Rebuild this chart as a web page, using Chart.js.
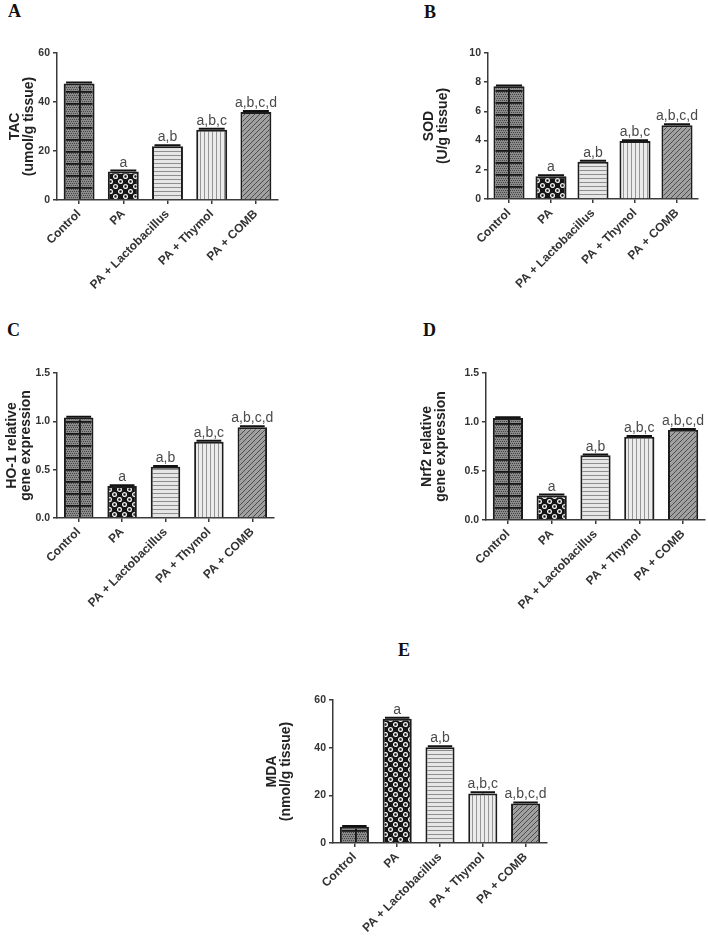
<!DOCTYPE html>
<html>
<head>
<meta charset="utf-8">
<script src="https://cdn.jsdelivr.net/npm/chart.js@4.4.1/dist/chart.umd.min.js"></script>
<style>
  html, body { margin: 0; padding: 0; background: #fff; }
  body { position: relative; width: 708px; height: 936px; overflow: hidden; }
  canvas { position: absolute; }
  .tag { position: absolute; font: bold 18px "Liberation Serif", "Times New Roman", serif; line-height: 1; color: #111; }
</style>
</head>
<body>
<div class="tag" style="left:8px;top:2px">A</div>
<div class="tag" style="left:424px;top:3px">B</div>
<div class="tag" style="left:7px;top:321px">C</div>
<div class="tag" style="left:423px;top:321px">D</div>
<div class="tag" style="left:398px;top:641px">E</div>

<canvas id="chartA" width="300" height="270" style="left:0;top:30px"></canvas>
<canvas id="chartB" width="298" height="270" style="left:410px;top:30px"></canvas>
<canvas id="chartC" width="300" height="275" style="left:0;top:345px"></canvas>
<canvas id="chartD" width="300" height="275" style="left:408px;top:345px"></canvas>
<canvas id="chartE" width="350" height="266" style="left:250px;top:670px"></canvas>

<script>
// groups on the x axis (same for every panel)
const groups = ['Control', 'PA', 'PA + Lactobacillus', 'PA + Thymol', 'PA + COMB'];

// A - TAC (umol/g tissue)
const tacValues = [47.6, 11.6, 21.9, 28.7, 35.9];
const tacErrors = [0.4, 0.4, 0.4, 0.4, 0.4];
const tacTicks = [0, 20, 40, 60];

// B - SOD (U/g tissue)
const sodValues = [7.72, 1.55, 2.55, 3.97, 5.05];
const sodErrors = [0.06, 0.07, 0.07, 0.06, 0.07];
const sodTicks = [0, 2, 4, 6, 8, 10];

// C - HO-1 relative gene expression
const ho1Values = [1.04, 0.33, 0.53, 0.79, 0.94];
const ho1Errors = [0.008, 0.008, 0.008, 0.008, 0.008];

// D - Nrf2 relative gene expression
const nrf2Values = [1.04, 0.25, 0.66, 0.85, 0.92];
const nrf2Errors = [0.008, 0.01, 0.008, 0.008, 0.008];

const foldTicks = [0, 0.5, 1, 1.5];
const foldTickLabels = ['0.0', '0.5', '1.0', '1.5'];

// E - MDA (nmol/g tissue)
const mdaValues = [6.8, 52.1, 40.2, 20.8, 16.6];
const mdaErrors = [0.3, 0.5, 0.4, 0.5, 0.4];
const mdaTicks = [0, 20, 40, 60];

// significance letters above the bars
const sigLetters = ['', 'a', 'a,b', 'a,b,c', 'a,b,c,d'];

Chart.defaults.font.family = "'Liberation Sans', Arial, sans-serif";
Chart.defaults.color = '#333';

/* fill patterns */
function tile(w, h, paint) {
	var c = document.createElement('canvas');
	c.width = w; c.height = h;
	paint(c.getContext('2d'));
	return c;
}
function meshFill(ctx) {
	return ctx.createPattern(tile(15, 12, function (g) {
		g.fillStyle = '#8a8a8a'; g.fillRect(0, 0, 15, 12);
		g.fillStyle = '#444';
		for (var y = 0; y < 12; y += 2)
			for (var x = (y % 4 ? 1 : 0); x < 15; x += 2) g.fillRect(x, y, 1, 1);
		g.fillStyle = '#161616';
		g.fillRect(0, 0, 15, 1.8);
		g.fillRect(0, 0, 1.8, 12);
	}), 'repeat');
}
function ringFill(ctx) {
	return ctx.createPattern(tile(10, 10, function (g) {
		g.fillStyle = '#151515'; g.fillRect(0, 0, 10, 10);
		g.strokeStyle = '#f2f2f2'; g.lineWidth = 1.3;
		[[2.5, 2.5], [7.5, 7.5]].forEach(function (p) {
			g.beginPath(); g.arc(p[0], p[1], 1.9, 0, Math.PI * 2); g.stroke();
		});
	}), 'repeat');
}
function hStripeFill(ctx) {
	return ctx.createPattern(tile(4, 4, function (g) {
		g.fillStyle = '#e6e6e6'; g.fillRect(0, 0, 4, 4);
		g.fillStyle = '#8e8e8e'; g.fillRect(0, 0, 4, 1);
	}), 'repeat');
}
function vStripeFill(ctx) {
	return ctx.createPattern(tile(4, 4, function (g) {
		g.fillStyle = '#ececec'; g.fillRect(0, 0, 4, 4);
		g.fillStyle = '#959595'; g.fillRect(0, 0, 1, 4);
	}), 'repeat');
}
function hatchFill(ctx) {
	return ctx.createPattern(tile(5, 5, function (g) {
		g.fillStyle = '#a0a0a0'; g.fillRect(0, 0, 5, 5);
		g.strokeStyle = '#4c4c4c'; g.lineWidth = 1;
		g.beginPath();
		g.moveTo(0, 5); g.lineTo(5, 0);
		g.moveTo(-1, 1); g.lineTo(1, -1);
		g.moveTo(4, 6); g.lineTo(6, 4);
		g.stroke();
	}), 'repeat');
}

/* error caps + letters, and pattern alignment to each bar */
var barMarks = {
	id: 'barMarks',
	beforeDatasetsDraw: function (chart) {
		var meta = chart.getDatasetMeta(0);
		var fills = chart.data.datasets[0].backgroundColor;
		meta.data.forEach(function (bar, i) {
			if (fills[i] && fills[i].setTransform)
				fills[i].setTransform(new DOMMatrix().translate(Math.round(bar.x - bar.width / 2), Math.round(bar.base)));
		});
	},
	afterDatasetsDraw: function (chart, args, opts) {
		var ctx = chart.ctx;
		var y = chart.scales.y;
		var meta = chart.getDatasetMeta(0);
		var data = chart.data.datasets[0].data;
		meta.data.forEach(function (bar, i) {
			var top = y.getPixelForValue(data[i] + opts.errors[i]);
			ctx.save();
			ctx.strokeStyle = '#111';
			ctx.lineWidth = 2;
			ctx.beginPath();
			ctx.moveTo(bar.x, bar.y);
			ctx.lineTo(bar.x, top);
			ctx.moveTo(bar.x - bar.width * 0.42, top);
			ctx.lineTo(bar.x + bar.width * 0.42, top);
			ctx.stroke();
			ctx.fillStyle = '#4a4a4a';
			ctx.font = "14px 'Liberation Sans', Arial, sans-serif";
			ctx.textAlign = 'center';
			ctx.textBaseline = 'alphabetic';
			ctx.fillText(opts.letters[i], bar.x, top - 4);
			ctx.restore();
		});
	}
};

function barPanel(id, values, errors, ticks, tickLabels, title, frame) {
	var canvas = document.getElementById(id);
	var ctx = canvas.getContext('2d');
	var fills = [meshFill(ctx), ringFill(ctx), hStripeFill(ctx), vStripeFill(ctx), hatchFill(ctx)];
	return new Chart(ctx, {
		type: 'bar',
		data: {
			labels: groups,
			datasets: [{
				data: values,
				backgroundColor: fills,
				borderColor: '#1c1c1c',
				borderWidth: 2,
				borderSkipped: 'bottom',
				barPercentage: frame.bar,
				categoryPercentage: 1
			}]
		},
		plugins: [barMarks],
		options: {
			responsive: false,
			animation: false,
			layout: { padding: frame.padding },
			scales: {
				x: {
					offset: true,
					grid: { display: true, drawOnChartArea: false, drawTicks: true, offset: false, tickLength: 4, color: '#3a3a3a', lineWidth: 1.5 },
					border: { display: true, color: '#3a3a3a', width: 1.5 },
					ticks: { autoSkip: false, minRotation: 45, maxRotation: 45, padding: 3, color: '#333', font: { size: 12, weight: 'bold' } },
					afterFit: function (scale) { scale.height = frame.xHeight; }
				},
				y: {
					min: ticks[0],
					max: ticks[ticks.length - 1],
					grid: { display: true, drawOnChartArea: false, drawTicks: true, tickLength: 4, color: '#3a3a3a', lineWidth: 1.5 },
					border: { display: true, color: '#3a3a3a', width: 1.5 },
					ticks: {
						padding: 3,
						color: '#333',
						font: { size: 10.5, weight: 'bold' },
						callback: function (v, i) { return tickLabels ? tickLabels[i] : v; }
					},
					afterBuildTicks: function (scale) {
						scale.ticks = ticks.map(function (v) { return { value: v }; });
					},
					title: {
						display: true,
						text: title,
						color: '#222',
						font: { size: 14, weight: 'bold', lineHeight: 1.0 },
						padding: { top: frame.titlePad, bottom: 0 }
					},
					afterFit: function (scale) { scale.width = frame.yWidth; }
				}
			},
			plugins: {
				legend: { display: false },
				tooltip: { enabled: false },
				barMarks: { errors: errors, letters: sigLetters }
			}
		}
	});
}

/* A */
barPanel('chartA', tacValues, tacErrors, tacTicks, null, ['TAC', '(umol/g tissue)'],
	{ yWidth: 57, xHeight: 100, titlePad: 8, bar: 0.7, padding: { left: 0, top: 23, right: 22, bottom: 0 } });

/* B */
barPanel('chartB', sodValues, sodErrors, sodTicks, null, ['SOD', '(U/g tissue)'],
	{ yWidth: 78, xHeight: 101, titlePad: 12, bar: 0.74, padding: { left: 0, top: 23, right: 10, bottom: 0 } });

/* C */
barPanel('chartC', ho1Values, ho1Errors, foldTicks, foldTickLabels, ['HO-1 relative', 'gene expression'],
	{ yWidth: 57, xHeight: 92, titlePad: 5, bar: 0.68, padding: { left: 0, top: 28, right: 26, bottom: 10 } });

/* D */
barPanel('chartD', nrf2Values, nrf2Errors, foldTicks, foldTickLabels, ['Nrf2 relative', 'gene expression'],
	{ yWidth: 78, xHeight: 90, titlePad: 12, bar: 0.69, padding: { left: 0, top: 28, right: 3, bottom: 10 } });

/* E */
barPanel('chartE', mdaValues, mdaErrors, mdaTicks, null, ['MDA', '(nmol/g tissue)'],
	{ yWidth: 83, xHeight: 93, titlePad: 15, bar: 0.68, padding: { left: 0, top: 30, right: 53, bottom: 0 } });
</script>
</body>
</html>
